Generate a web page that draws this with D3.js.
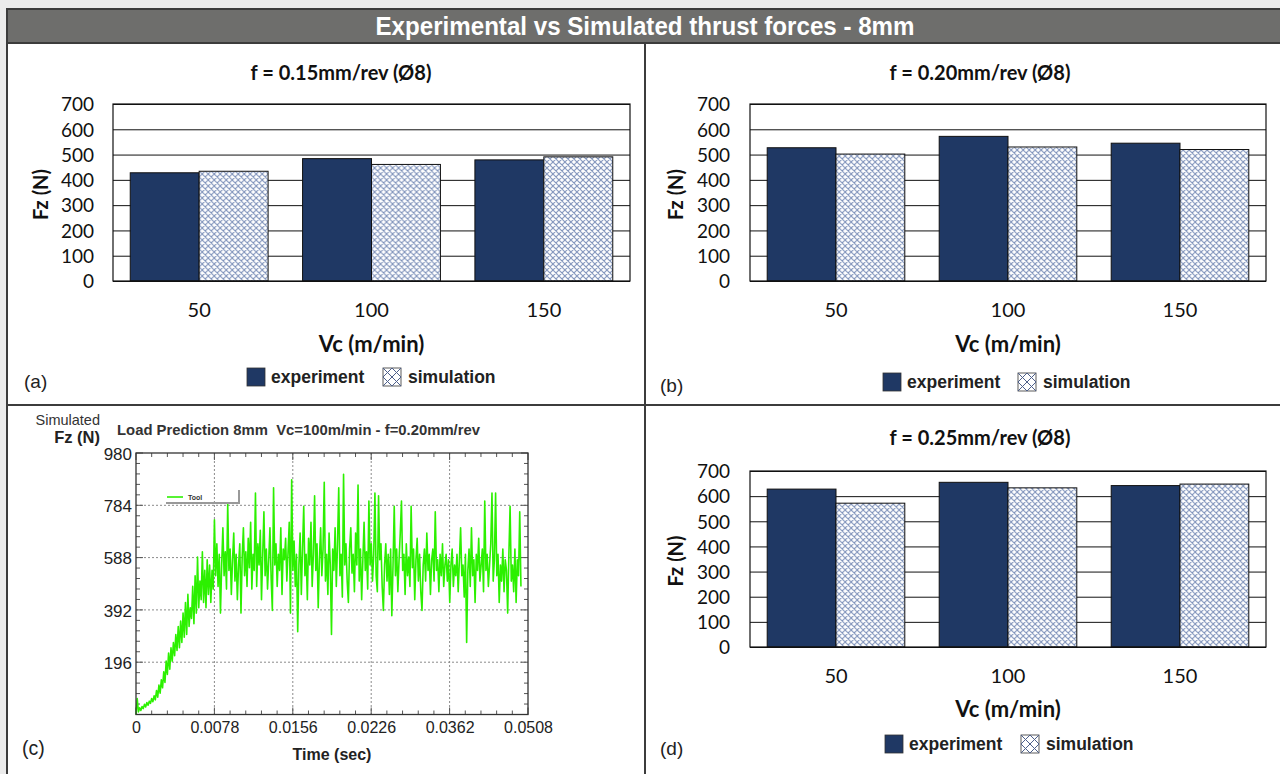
<!DOCTYPE html>
<html>
<head>
<meta charset="utf-8">
<script src="https://cdn.jsdelivr.net/npm/d3@7"></script>
<style>
  html, body { margin: 0; padding: 0; background: #ececec; }
  svg { display: block; }
</style>
</head>
<body>
<svg id="chart" width="1280" height="774"></svg>
<script>
// ---------------- DATA ----------------
const mainTitle = "Experimental vs Simulated thrust forces - 8mm";
const categories = ["50", "100", "150"];
const seriesNames = ["experiment", "simulation"];
const yTicksBar = [0, 100, 200, 300, 400, 500, 600, 700];

const titleA = "f = 0.15mm/rev (Ø8)";
const expA = [428, 484, 479];
const simA = [434, 461, 491];

const titleB = "f = 0.20mm/rev (Ø8)";
const expB = [527, 572, 545];
const simB = [502, 530, 520];

const titleD = "f = 0.25mm/rev (Ø8)";
const expD = [628, 655, 642];
const simD = [572, 633, 648];

const titleC = "Load Prediction 8mm  Vc=100m/min - f=0.20mm/rev";
const timeTickLabels = ["0", "0.0078", "0.0156", "0.0226", "0.0362", "0.0508"];
const fzTickValues = [196, 392, 588, 784, 980];
const fzSignal = [
  0, 60, 10, 25, 15, 30, 22, 38, 28, 45,
  35, 50, 42, 60, 48, 70, 55, 90, 65, 110,
  80, 130, 100, 160, 120, 200, 150, 230, 170, 250,
  200, 270, 220, 300, 240, 330, 250, 350, 270, 380,
  290, 420, 300, 450, 330, 400, 360, 480, 340, 520,
  380, 590, 400, 500, 430, 610, 420, 540, 400, 580,
  450, 560, 420, 540, 470, 730,
  520, 640, 480, 600, 380, 560, 700, 520, 610, 470,
  790, 540, 620, 450, 580, 680, 500, 600, 430, 560,
  640, 380, 590, 700, 520, 610, 480, 660, 550, 720,
  470, 600, 540, 830, 480, 640, 560, 690, 430, 600,
  760, 520, 620, 470, 580, 700, 510, 390, 850, 560,
  640, 480, 600, 540, 700, 450, 620, 580, 660, 500,
  610, 720, 380, 880, 540, 650, 480, 600, 310, 560,
  680, 450, 620, 780, 520, 600, 430, 660, 560, 720,
  480, 600, 820, 540, 640, 400, 580, 700, 520, 620,
  870, 500, 600, 450, 680, 560, 300, 620, 540, 700,
  480, 640, 850, 520, 600, 440, 900, 560, 640, 500,
  420, 620, 700, 530, 600, 460, 680, 560, 860, 500,
  620, 430, 580, 720, 540, 610, 470, 800, 560, 640,
  500, 600, 830, 520, 460, 820, 580, 640, 480, 390,
  560, 640, 500, 600, 450, 620, 370, 560, 780, 520,
  620, 460, 580, 680, 800, 540, 600, 450, 640, 520,
  590, 480, 780, 550, 620, 430, 580, 660, 500, 600,
  460, 390, 560, 620, 500, 680, 540, 600, 450, 580,
  620, 500, 760, 540, 580, 460, 600, 520, 640, 480,
  560, 600, 500, 580, 420, 560, 620, 480, 560, 520,
  600, 460, 580, 700, 520, 560, 440, 600, 270, 540,
  620, 480, 700, 520, 580, 420, 600, 540, 660, 500,
  560, 620, 460, 800, 540, 600, 480, 560, 640, 830,
  500, 580, 830, 520, 600, 420, 560, 500, 620, 460,
  580, 540, 380, 600, 780, 500, 560, 460, 620, 420,
  580, 520, 760, 480
];

// ---------------- STYLE ----------------
const CAL = "Lato, 'Carlito', Calibri, sans-serif";
const ARIAL = "'Liberation Sans', Arial, Helvetica, sans-serif";
const NARROW = "'Liberation Sans Narrow', 'Arial Narrow', 'Liberation Sans', sans-serif";
const EXP_COLOR = "#1f3864";
const HATCH_COLOR = "#7f93bb";
const FRAME = "#3c3c3c";

const svg = d3.select("#chart");

// pattern
const defs = svg.append("defs");
const pat = defs.append("pattern").attr("id", "hatch")
  .attr("patternUnits", "userSpaceOnUse").attr("width", 6).attr("height", 6);
pat.append("rect").attr("width", 6).attr("height", 6).attr("fill", "#fff");
pat.append("path").attr("d", "M-1,-1 L7,7 M7,-1 L-1,7 M-1,5 L1,7 M5,-1 L7,1 M5,7 L7,5 M-1,1 L1,-1")
  .attr("stroke", HATCH_COLOR).attr("stroke-width", 1.1);

// figure background
svg.append("rect").attr("x", 6).attr("y", 8).attr("width", 1280).attr("height", 774).attr("fill", "#fff");

// title bar
svg.append("rect").attr("x", 7).attr("y", 9).attr("width", 1280).attr("height", 34)
  .attr("fill", "#6e6e6c").attr("stroke", FRAME).attr("stroke-width", 2);
svg.append("text").attr("x", 645).attr("y", 35).attr("text-anchor", "middle")
  .attr("font-family", NARROW).attr("font-weight", "bold").attr("font-size", 25)
  .attr("fill", "#fff").attr("textLength", 539).attr("lengthAdjust", "spacingAndGlyphs")
  .text(mainTitle);

// frame lines
svg.append("line").attr("x1", 7).attr("x2", 7).attr("y1", 9).attr("y2", 774).attr("stroke", FRAME).attr("stroke-width", 2);
svg.append("line").attr("x1", 645).attr("x2", 645).attr("y1", 43).attr("y2", 774).attr("stroke", FRAME).attr("stroke-width", 2);
svg.append("line").attr("x1", 7).attr("x2", 1280).attr("y1", 405).attr("y2", 405).attr("stroke", FRAME).attr("stroke-width", 2);

// ---------------- BAR PANELS ----------------
function barPanel(cfg) {
  const g = svg.append("g");
  const x0 = d3.scaleBand().domain(categories).range([cfg.left, cfg.right]).paddingInner(0.2).paddingOuter(0.1);
  const x1 = d3.scaleBand().domain(seriesNames).range([0, x0.bandwidth()]);
  const y = d3.scaleLinear().domain([0, 700]).range([cfg.bottom, cfg.top]);

  // gridlines
  g.append("g").attr("transform", `translate(${cfg.left},0)`)
    .call(d3.axisLeft(y).tickValues(yTicksBar).tickSize(-(cfg.right - cfg.left)).tickFormat(""))
    .call(s => s.select(".domain").remove())
    .call(s => s.selectAll("line").attr("stroke", "#111").attr("stroke-width", 1));

  // bars
  const rows = categories.map((c, i) => ({ cat: c, vals: [cfg.exp[i], cfg.sim[i]] }));
  const grp = g.selectAll(".grp").data(rows).join("g").attr("transform", d => `translate(${x0(d.cat)},0)`);
  grp.selectAll("rect").data(d => d.vals.map((v, k) => ({ key: seriesNames[k], v })))
    .join("rect")
    .attr("x", d => x1(d.key)).attr("width", x1.bandwidth())
    .attr("y", d => y(d.v)).attr("height", d => y(0) - y(d.v))
    .attr("fill", d => d.key === "experiment" ? EXP_COLOR : "url(#hatch)")
    .attr("stroke", "#111").attr("stroke-width", 1);

  // plot border
  g.append("rect").attr("x", cfg.left).attr("y", cfg.top).attr("width", cfg.right - cfg.left)
    .attr("height", cfg.bottom - cfg.top).attr("fill", "none").attr("stroke", "#111").attr("stroke-width", 1.2);

  // y tick labels
  const ya = g.append("g").attr("transform", `translate(${cfg.left},0)`)
    .call(d3.axisLeft(y).tickValues(yTicksBar).tickSize(0).tickPadding(cfg.left - cfg.yLabelRight));
  ya.select(".domain").remove();
  ya.selectAll("text").attr("font-family", CAL).attr("font-size", 19).attr("fill", "#111").attr("dy", "0.36em");

  // x tick labels
  const xa = g.append("g").attr("transform", `translate(0,${cfg.bottom})`)
    .call(d3.axisBottom(x0).tickSize(0).tickPadding(cfg.xLabelPad));
  xa.select(".domain").remove();
  xa.selectAll("text").attr("font-family", CAL).attr("font-size", 20).attr("fill", "#111");

  // titles
  g.append("text").attr("x", cfg.titleX).attr("y", cfg.titleY).attr("text-anchor", "middle")
    .attr("font-family", CAL).attr("font-weight", "bold").attr("font-size", 20).attr("fill", "#111").text(cfg.title);
  g.append("text").attr("transform", `translate(${cfg.yTitleX},${(cfg.top + cfg.bottom) / 2 + 2}) rotate(-90)`)
    .attr("text-anchor", "middle").attr("font-family", CAL).attr("font-weight", "bold").attr("font-size", 20)
    .attr("fill", "#111").text("Fz (N)");
  g.append("text").attr("x", (cfg.left + cfg.right) / 2).attr("y", cfg.xTitleY).attr("text-anchor", "middle")
    .attr("font-family", CAL).attr("font-weight", "bold").attr("font-size", 22).attr("fill", "#111").text("Vc (m/min)");

  // legend
  const L = cfg.legend;
  g.append("rect").attr("x", L.x).attr("y", L.y).attr("width", 18).attr("height", 18)
    .attr("fill", EXP_COLOR).attr("stroke", "#333").attr("stroke-width", 0.8);
  g.append("text").attr("x", L.x + 24).attr("y", L.y + 15).attr("font-family", ARIAL).attr("font-weight", "bold")
    .attr("font-size", 17.5).attr("fill", "#222").text(seriesNames[0]);
  const sx = L.x + L.gap, sy = L.y;
  g.append("rect").attr("x", sx).attr("y", sy).attr("width", 18).attr("height", 18)
    .attr("fill", "#fff").attr("stroke", "#333").attr("stroke-width", 0.8);
  g.append("path").attr("d", `M${sx},${sy} L${sx + 18},${sy + 18} M${sx + 18},${sy} L${sx},${sy + 18} M${sx + 9},${sy} L${sx + 18},${sy + 9} L${sx + 9},${sy + 18} L${sx},${sy + 9} Z`)
    .attr("fill", "none").attr("stroke", "#4d5f8a").attr("stroke-width", 1);
  g.append("text").attr("x", sx + 25).attr("y", L.y + 15).attr("font-family", ARIAL).attr("font-weight", "bold")
    .attr("font-size", 17.5).attr("fill", "#222").text(seriesNames[1]);

  // panel letter
  g.append("text").attr("x", cfg.letterX).attr("y", cfg.letterY).attr("font-family", ARIAL)
    .attr("font-size", 19).attr("fill", "#222").text(cfg.letter);
}

barPanel({ left: 113, right: 630, top: 104, bottom: 281, exp: expA, sim: simA, title: titleA,
  titleX: 341, titleY: 80, yLabelRight: 94, xLabelPad: 22, yTitleX: 48, xTitleY: 352,
  legend: { x: 247, y: 368, gap: 136 }, letter: "(a)", letterX: 24, letterY: 388 });

barPanel({ left: 750, right: 1266, top: 104, bottom: 281, exp: expB, sim: simB, title: titleB,
  titleX: 980, titleY: 80, yLabelRight: 730, xLabelPad: 22, yTitleX: 683, xTitleY: 352,
  legend: { x: 883, y: 373, gap: 135 }, letter: "(b)", letterX: 660, letterY: 392 });

barPanel({ left: 750, right: 1266, top: 471, bottom: 647, exp: expD, sim: simD, title: titleD,
  titleX: 980, titleY: 445, yLabelRight: 730, xLabelPad: 22, yTitleX: 683, xTitleY: 717,
  legend: { x: 885, y: 735, gap: 136 }, letter: "(d)", letterX: 660, letterY: 755 });

// ---------------- PANEL C ----------------
(function () {
  const left = 136, right = 528, top = 453, bottom = 714.5;
  const g = svg.append("g");
  const xt = d3.scalePoint().domain(timeTickLabels).range([left, right]);
  const y = d3.scaleLinear().domain([0, 980]).range([bottom, top]);
  const xs = d3.scaleLinear().domain([0, fzSignal.length - 1]).range([left, left + (right - left) * 0.982]);

  // dotted grid
  g.append("g").selectAll("line").data(timeTickLabels.slice(1, -1)).join("line")
    .attr("x1", d => xt(d)).attr("x2", d => xt(d)).attr("y1", top).attr("y2", bottom)
    .attr("stroke", "#8a8a8a").attr("stroke-width", 1).attr("stroke-dasharray", "2,2");
  g.append("g").selectAll("line").data(fzTickValues.slice(0, -1)).join("line")
    .attr("x1", left).attr("x2", right).attr("y1", d => y(d)).attr("y2", d => y(d))
    .attr("stroke", "#8a8a8a").attr("stroke-width", 1).attr("stroke-dasharray", "2,2");

  // minor ticks (5 per major interval)
  const stepX = xt.step() / 5, stepY = (y(0) - y(196)) / 5;
  const minorX = d3.range(1, 25).filter(i => i % 5 !== 0).map(i => left + i * stepX);
  const minorY = d3.range(1, 25).filter(i => i % 5 !== 0).map(i => bottom - i * stepY);
  const tk = g.append("g").attr("stroke", "#555").attr("stroke-width", 1);
  minorX.forEach(x => {
    tk.append("line").attr("x1", x).attr("x2", x).attr("y1", bottom).attr("y2", bottom - 4);
    tk.append("line").attr("x1", x).attr("x2", x).attr("y1", top).attr("y2", top + 4);
  });
  minorY.forEach(yy => {
    tk.append("line").attr("x1", left).attr("x2", left + 4).attr("y1", yy).attr("y2", yy);
    tk.append("line").attr("x1", right).attr("x2", right - 4).attr("y1", yy).attr("y2", yy);
  });
  timeTickLabels.forEach(d => {
    tk.append("line").attr("x1", xt(d)).attr("x2", xt(d)).attr("y1", bottom).attr("y2", bottom - 7);
    tk.append("line").attr("x1", xt(d)).attr("x2", xt(d)).attr("y1", top).attr("y2", top + 7);
  });
  fzTickValues.forEach(d => {
    tk.append("line").attr("x1", left).attr("x2", left + 7).attr("y1", y(d)).attr("y2", y(d));
    tk.append("line").attr("x1", right).attr("x2", right - 7).attr("y1", y(d)).attr("y2", y(d));
  });

  // signal
  g.append("path").datum(fzSignal)
    .attr("d", d3.line().x((d, i) => xs(i)).y(d => y(d)))
    .attr("fill", "none").attr("stroke", "#2cf000").attr("stroke-width", 1.6).attr("stroke-linejoin", "round");

  // frame
  g.append("rect").attr("x", left).attr("y", top).attr("width", right - left).attr("height", bottom - top)
    .attr("fill", "none").attr("stroke", "#333").attr("stroke-width", 1.3);

  // legend "Tool"
  g.append("line").attr("x1", 167).attr("x2", 183).attr("y1", 497).attr("y2", 497).attr("stroke", "#2cf000").attr("stroke-width", 1.6);
  g.append("text").attr("x", 188).attr("y", 499.5).attr("font-family", ARIAL).attr("font-weight", "bold")
    .attr("font-size", 7).attr("fill", "#333").text("Tool");
  g.append("path").attr("d", "M166,503 L239,503 L239,490").attr("fill", "none").attr("stroke", "#999").attr("stroke-width", 2);

  // axes labels
  const ya = g.append("g").attr("transform", `translate(${left},0)`)
    .call(d3.axisLeft(y).tickValues(fzTickValues).tickSize(0).tickPadding(4));
  ya.select(".domain").remove();
  ya.selectAll("text").attr("font-family", ARIAL).attr("font-size", 17).attr("fill", "#222").attr("dy", "0.36em");
  const xa = g.append("g").attr("transform", `translate(0,${bottom})`)
    .call(d3.axisBottom(xt).tickSize(0).tickPadding(7));
  xa.select(".domain").remove();
  xa.selectAll("text").attr("font-family", ARIAL).attr("font-size", 16).attr("fill", "#222");

  g.append("text").attr("x", 332).attr("y", 760).attr("text-anchor", "middle").attr("font-family", ARIAL)
    .attr("font-weight", "bold").attr("font-size", 16).attr("fill", "#222").text("Time (sec)");
  g.append("text").attr("x", 100).attr("y", 425).attr("text-anchor", "end").attr("font-family", ARIAL)
    .attr("font-size", 14.5).attr("fill", "#333").text("Simulated");
  g.append("text").attr("x", 100).attr("y", 443).attr("text-anchor", "end").attr("font-family", ARIAL)
    .attr("font-weight", "bold").attr("font-size", 16.5).attr("fill", "#222").text("Fz (N)");
  g.append("text").attr("x", 117).attr("y", 435).attr("font-family", ARIAL).attr("font-weight", "bold")
    .attr("font-size", 15).attr("fill", "#333").style("white-space", "pre")
    .attr("textLength", 363).attr("lengthAdjust", "spacingAndGlyphs").text(titleC);
  g.append("text").attr("x", 22).attr("y", 755).attr("font-family", ARIAL)
    .attr("font-size", 19.5).attr("fill", "#222").text("(c)");
})();
</script>
</body>
</html>
